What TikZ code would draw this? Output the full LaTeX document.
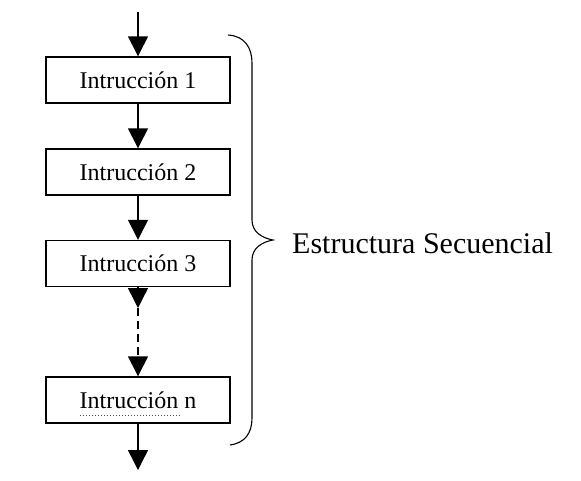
\documentclass[tikz,border=0pt]{standalone}
\usepackage{fontspec}
\setmainfont{Liberation Serif}
\usetikzlibrary{arrows.meta}
\tikzset{
  box/.style={draw, line width=1.4pt, minimum width=184pt, minimum height=46pt, inner sep=0pt, font=\fontsize{24}{26}\selectfont},
  flow/.style={line width=1.4pt, -{Triangle[width=20pt,length=20pt]}},
  dashflow/.style={flow, dash pattern=on 8pt off 5pt},
  brace/.style={line width=1.1pt},
  squiggle/.style={line width=1pt, dotted, black!70}
}
\begin{document}
\begin{tikzpicture}[x=1pt,y=-1pt]
\useasboundingbox (0,0) rectangle (581,480);
\node[box] (b1) at (138,80) {Intrucción 1};
\node[box] (b2) at (138,172) {Intrucción 2};
\node[box] (b3) at (138,263.5) {Intrucción 3};
\node[box] (bn) at (138,400) {Intrucción n};
\coordinate (top) at (138,12);
\coordinate (mid) at (138,308);
\coordinate (bot) at (138,470);
\draw[flow] (top) -- (b1.north);
\draw[flow] (b1.south) -- (b2.north);
\draw[flow] (b2.south) -- (b3.north);
\draw[flow] (b3.south) -- (mid);
\draw[dashflow] (mid) -- (bn.north);
\draw[flow] (bn.south) -- (bot);
\coordinate (su) at (80,415);
\coordinate (sv) at (182,415);
\draw[squiggle] (su) -- (sv);
\coordinate (bt) at (228,35);
\coordinate (bb) at (230,445);
\coordinate (tip) at (273,240);
\draw[brace] (bt) .. controls (245,36) and (252,48) .. (252,63) -- (252,220) .. controls (252,232) and (262,238) .. (tip) .. controls (262,242) and (252,248) .. (252,260) -- (252,418) .. controls (252,433) and (245,443) .. (bb);
\node[anchor=west, inner sep=0pt, font=\fontsize{30}{32}\selectfont] (lab) at (292,243) {Estructura Secuencial};
\end{tikzpicture}
\end{document}
